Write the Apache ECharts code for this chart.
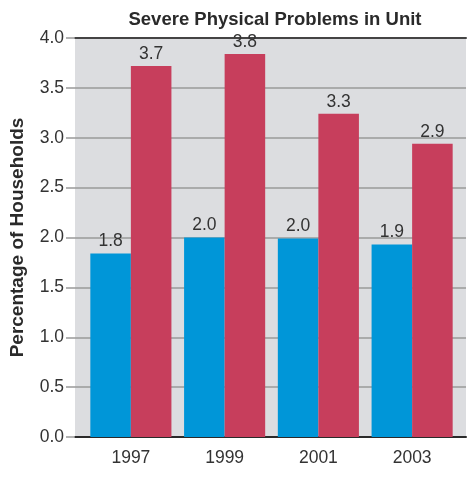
<!DOCTYPE html>
<html>
<head>
<meta charset="utf-8">
<script src="https://cdn.jsdelivr.net/npm/echarts@6/dist/echarts.min.js"></script>
<style>html,body{margin:0;padding:0;background:#fff;}#c{width:467px;height:478px;}</style>
</head>
<body>
<div id="c"></div>
<script>
var years = ['1997', '1999', '2001', '2003'];
var blueValues = [1.84, 2.0, 1.99, 1.93];
var redValues = [3.72, 3.84, 3.24, 2.94];
var blueLabels = ['1.8', '2.0', '2.0', '1.9'];
var redLabels = ['3.7', '3.8', '3.3', '2.9'];
var yTicks = [0, 0.5, 1.0, 1.5, 2.0, 2.5, 3.0, 3.5, 4.0];

var FONT = '"Liberation Sans", Arial, sans-serif';
var chart = echarts.init(document.getElementById('c'), null, {renderer: 'canvas'});
var yMin = yTicks[0], yMax = yTicks[yTicks.length - 1], yStep = yTicks[1] - yTicks[0];

chart.setOption({
  animation: false,
  title: {
    text: 'Severe Physical Problems in Unit',
    left: 270, textAlign: 'center', top: 5,
    textStyle: {fontFamily: FONT, fontSize: 18.5, fontWeight: 'bold', color: '#2a2a2a'}
  },
  grid: [
    {left: 74, right: 1, top: 38, bottom: 41, show: true, backgroundColor: '#dcdde0', borderWidth: 0},
    {left: 84, right: 8, top: 38, bottom: 41}
  ],
  xAxis: [
    {gridIndex: 0, type: 'value', min: 0, max: 1, position: 'bottom', axisLabel: {show: false}, axisTick: {show: false}, splitLine: {show: false},
      axisLine: {show: true, lineStyle: {color: '#2a2a2a', width: 2}}},
    {gridIndex: 0, type: 'value', min: 0, max: 1, position: 'top', axisLabel: {show: false}, axisTick: {show: false}, splitLine: {show: false},
      axisLine: {show: true, lineStyle: {color: '#444', width: 2}}},
    {gridIndex: 1, type: 'category', data: years, position: 'bottom', axisLine: {show: false}, axisTick: {show: false},
      axisLabel: {margin: 12, fontFamily: FONT, fontSize: 17.5, color: '#333'}}
  ],
  yAxis: [
    {gridIndex: 0, type: 'value', min: yMin, max: yMax, interval: yStep,
      name: 'Percentage of Households', nameLocation: 'middle', nameGap: 48, nameRotate: 90,
      nameTextStyle: {fontFamily: FONT, fontSize: 19, fontWeight: 'bold', color: '#2a2a2a'},
      axisLine: {show: false},
      axisTick: {show: true, length: 9, lineStyle: {color: '#999', width: 1.5}},
      axisLabel: {margin: 11, fontFamily: FONT, fontSize: 17.5, color: '#333',
        formatter: function (v) { return v.toFixed(1); }},
      splitLine: {show: true, lineStyle: {color: '#9a9a9a', width: 1.5}}},
    {gridIndex: 1, type: 'value', min: yMin, max: yMax, interval: yStep, show: false, splitLine: {show: false}}
  ],
  series: [
    {name: 'Blue', type: 'bar', xAxisIndex: 2, yAxisIndex: 1, data: blueValues,
      barGap: '0%', barCategoryGap: '13.5%',
      itemStyle: {color: '#0096d8'},
      label: {show: true, position: 'top', distance: 3, fontFamily: FONT, fontSize: 17.5, color: '#333',
        formatter: function (p) { return blueLabels[p.dataIndex]; }}},
    {name: 'Red', type: 'bar', xAxisIndex: 2, yAxisIndex: 1, data: redValues,
      barGap: '0%', barCategoryGap: '13.5%',
      itemStyle: {color: '#c73e5c'},
      label: {show: true, position: 'top', distance: 3, fontFamily: FONT, fontSize: 17.5, color: '#333',
        formatter: function (p) { return redLabels[p.dataIndex]; }}}
  ]
});
</script>
</body>
</html>
